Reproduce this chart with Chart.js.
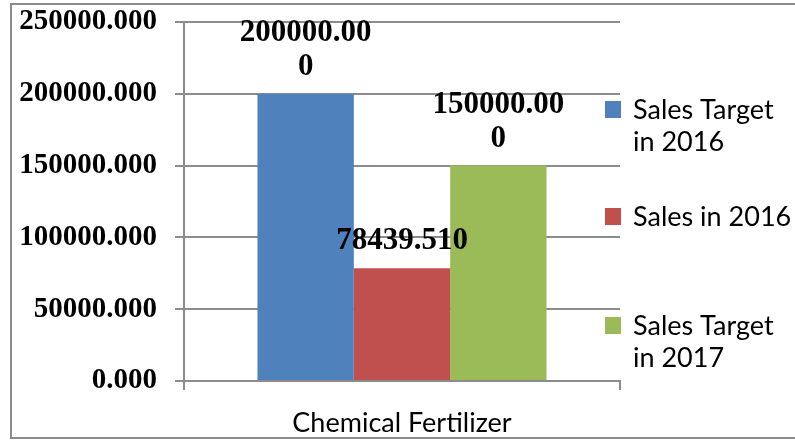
<!DOCTYPE html>
<html>
<head>
<meta charset="utf-8">
<script src="https://cdn.jsdelivr.net/npm/chart.js@4.4.1/dist/chart.umd.min.js"></script>
<style>
  body { margin: 0; background: #fff; }
  #chart { display: block; }
</style>
</head>
<body>
<canvas id="chart" width="795" height="440"></canvas>
<script>
// Chart data
const categories = ['Chemical Fertilizer'];
const seriesNames = ['Sales Target in 2016', 'Sales in 2016', 'Sales Target in 2017'];
const salesTarget2016 = [200000];
const sales2016 = [78439.51];
const salesTarget2017 = [150000];
const yTicks = [0, 50000, 100000, 150000, 200000, 250000];

const seriesColors = ['#4F81BD', '#C0504D', '#9BBB59'];
const gridGray = '#8c8c8c';
const serifFamily = '"Liberation Serif", "Times New Roman", serif';
const sansFont = '"Lato", "Open Sans", sans-serif';

// Outer frame of the chart
const framePlugin = {
    id: 'frame',
    beforeDraw(chart) {
        const ctx = chart.ctx;
        ctx.save();
        ctx.fillStyle = '#fff';
        ctx.fillRect(0, 0, chart.width, chart.height);
        ctx.strokeStyle = gridGray;
        ctx.lineWidth = 2;
        ctx.beginPath();
        ctx.moveTo(chart.width, 4);
        ctx.lineTo(11, 4);
        ctx.lineTo(11, 438);
        ctx.lineTo(chart.width, 438);
        ctx.stroke();
        ctx.restore();
    }
};

// Value labels above each bar, wrapped like the original (9 chars per line)
const valueLabelPlugin = {
    id: 'valueLabels',
    afterDatasetsDraw(chart) {
        const ctx = chart.ctx;
        ctx.save();
        ctx.font = 'bold 31px ' + serifFamily;
        ctx.fillStyle = '#000';
        ctx.textAlign = 'center';
        ctx.textBaseline = 'middle';
        chart.data.datasets.forEach((ds, i) => {
            const meta = chart.getDatasetMeta(i);
            meta.data.forEach((bar, j) => {
                const text = ds.data[j].toFixed(3);
                const lines = [];
                for (let k = 0; k < text.length; k += 9) lines.push(text.slice(k, k + 9));
                lines.forEach((ln, n) => {
                    const y = bar.y - 27 - (lines.length - 1 - n) * 34;
                    ctx.fillText(ln, bar.x, y);
                });
            });
        });
        ctx.restore();
    }
};

// Legend on the right with wrapped text
const sideLegendPlugin = {
    id: 'sideLegend',
    afterDraw(chart) {
        const ctx = chart.ctx;
        const centers = [126, 217, 342];
        ctx.save();
        ctx.font = '27px ' + sansFont;
        ctx.textBaseline = 'middle';
        chart.data.datasets.forEach((ds, i) => {
            // word wrap
            const words = ds.label.split(' ');
            const lines = [];
            let cur = '';
            words.forEach(w => {
                const test = cur ? cur + ' ' + w : w;
                if (ctx.measureText(test).width > 160 && cur) {
                    lines.push(cur);
                    cur = w;
                } else {
                    cur = test;
                }
            });
            lines.push(cur);
            const lh = 32;
            const firstY = centers[i] - (lines.length - 1) * lh / 2;
            ctx.fillStyle = ds.backgroundColor;
            ctx.fillRect(605, firstY - 9, 16, 17);
            ctx.fillStyle = '#000';
            lines.forEach((ln, n) => ctx.fillText(ln, 633, firstY + n * lh));
        });
        ctx.restore();
    }
};

const seriesData = [salesTarget2016, sales2016, salesTarget2017];

new Chart(document.getElementById('chart'), {
    type: 'bar',
    data: {
        labels: categories,
        datasets: seriesNames.map((name, i) => ({
            label: name,
            data: seriesData[i],
            backgroundColor: seriesColors[i],
            borderWidth: 0,
            barPercentage: 1,
            categoryPercentage: 0.663
        }))
    },
    options: {
        responsive: false,
        devicePixelRatio: 1,
        animation: false,
        layout: { padding: { top: 22, right: 175, left: 0, bottom: 0 } },
        plugins: {
            legend: { display: false },
            tooltip: { enabled: false }
        },
        scales: {
            x: {
                grid: {
                    drawOnChartArea: false,
                    color: gridGray,
                    lineWidth: 2,
                    tickLength: 9
                },
                border: { color: gridGray, width: 2 },
                ticks: {
                    color: '#000',
                    font: { family: sansFont, size: 27 },
                    padding: 17
                },
                afterFit(scale) {
                    scale.height = 59;
                    scale.paddingLeft = 0;
                    scale.paddingRight = 0;
                }
            },
            y: {
                min: 0,
                max: 250000,
                afterBuildTicks(scale) {
                    scale.ticks = yTicks.map(v => ({ value: v }));
                },
                grid: {
                    color: gridGray,
                    lineWidth: 2,
                    tickLength: 9
                },
                border: { color: gridGray, width: 2 },
                ticks: {
                    color: '#000',
                    font: { family: serifFamily, size: 29, weight: 'bold' },
                    padding: 18,
                    callback: v => Number(v).toFixed(3)
                },
                afterFit(scale) {
                    scale.width = 184;
                    scale.paddingTop = 0;
                    scale.paddingBottom = 0;
                }
            }
        }
    },
    plugins: [framePlugin, valueLabelPlugin, sideLegendPlugin]
});
</script>
</body>
</html>
